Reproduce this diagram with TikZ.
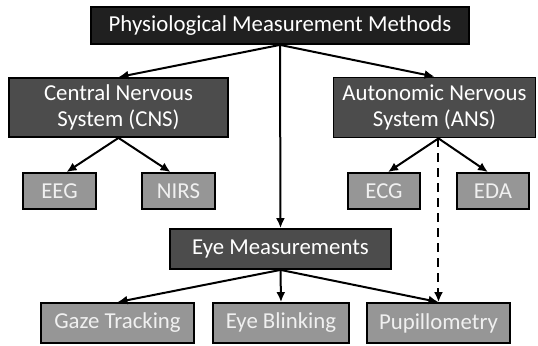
\documentclass[tikz,border=0pt]{standalone}
\definecolor{topfill}{RGB}{32,32,32}
\definecolor{midfill}{RGB}{76,76,76}
\definecolor{leaffill}{RGB}{150,150,150}
\definecolor{leaftext}{RGB}{240,240,240}
\usepackage{fontspec}
\setmainfont{Carlito}
\usepackage{tikz}
\usetikzlibrary{arrows.meta,positioning,calc}

\begin{document}
\begin{tikzpicture}[
            x=0.5pt, y=-0.5pt,
            font=\fontsize{11.4}{12.8}\selectfont,
            box/.style={rectangle, draw=black, line width=0.9pt, inner sep=0pt, align=center},
            topbox/.style={box, fill=topfill, text=white, minimum width=189pt, minimum height=18.5pt},
            midbox/.style={box, fill=midfill, text=white},
            leaf/.style={box, fill=leaffill, text=leaftext, minimum height=18pt},
            arrow/.style={-{Latex[length=5pt,width=4.5pt]}, line width=1pt, black}
        ]
            \useasboundingbox (0,0) rectangle (538,345);
            \node[topbox] (pmm) at (280,25.5) {Physiological Measurement Methods};
            \node[midbox, minimum width=109.5pt, minimum height=29.5pt] (cns) at (118.5,107.5) {Central Nervous\\System (CNS)};
            \node[midbox, minimum width=101pt, minimum height=30pt] (ans) at (434.5,107.5) {Autonomic Nervous\\System (ANS)};
            \node[leaf, minimum width=36.5pt] (eeg) at (59.5,191) {EEG};
            \node[leaf, minimum width=36.5pt] (nirs) at (178.5,191) {NIRS};
            \node[leaf, minimum width=36pt] (ecg) at (384,191) {ECG};
            \node[leaf, minimum width=36pt] (eda) at (493,191) {EDA};
            \node[midbox, minimum width=110.5pt, minimum height=20pt] (eye) at (280.5,249) {Eye Measurements};
            \node[leaf, minimum width=76.5pt, minimum height=20pt] (gaze) at (117.5,323) {Gaze Tracking};
            \node[leaf, minimum width=68pt, minimum height=20pt] (blink) at (281,323) {Eye Blinking};
            \node[leaf, minimum width=71.5pt, minimum height=20pt] (pupil) at (438.5,323) {Pupillometry};

            \draw[arrow] (pmm.south) -- (cns.north);
            \draw[arrow] (pmm.south) -- (ans.north);
            \draw[arrow] (pmm.south) -- (eye.north);
            \draw[arrow] (cns.south) -- ([xshift=3.5pt]eeg.north);
            \draw[arrow] (cns.south) -- ([xshift=-4pt]nirs.north);
            \draw[arrow] (ans.south -| pupil.north) -- ([xshift=2pt]ecg.north);
            \draw[arrow] (ans.south -| pupil.north) -- ([xshift=-2.5pt]eda.north);
            \draw[arrow, dash pattern=on 4.5pt off 3pt] (ans.south -| pupil.north) -- (pupil.north);
            \draw[arrow] (eye.south) -- (gaze.north);
            \draw[arrow] (eye.south) -- (blink.north);
            \draw[arrow] (eye.south) -- (pupil.north);
        \end{tikzpicture}
\end{document}
